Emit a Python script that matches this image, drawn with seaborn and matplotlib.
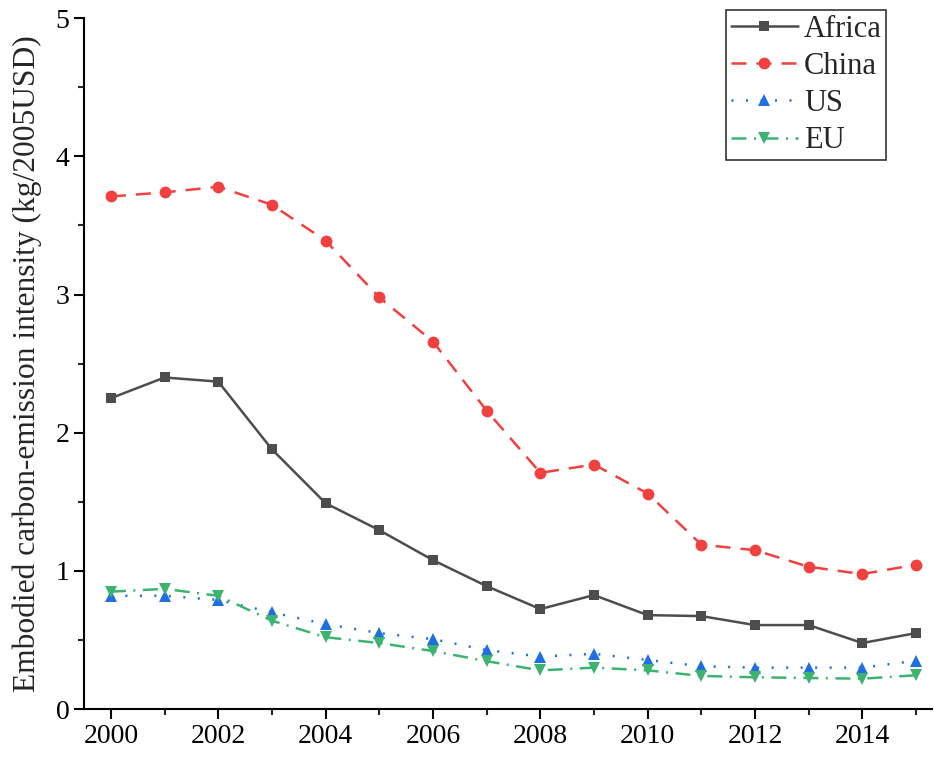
import matplotlib
matplotlib.use("Agg")
import matplotlib.pyplot as plt
import seaborn as sns
import pandas as pd
from matplotlib.ticker import MultipleLocator

years = list(range(2000, 2016))
africa = [2.25, 2.40, 2.37, 1.88, 1.49, 1.295, 1.078, 0.89, 0.724, 0.825, 0.68, 0.673, 0.608, 0.608, 0.478, 0.55]
china = [3.71, 3.74, 3.78, 3.65, 3.39, 2.98, 2.66, 2.16, 1.71, 1.77, 1.56, 1.19, 1.15, 1.03, 0.977, 1.045]
us = [0.82, 0.82, 0.79, 0.70, 0.615, 0.55, 0.506, 0.427, 0.38, 0.40, 0.355, 0.31, 0.30, 0.30, 0.30, 0.35]
eu = [0.85, 0.87, 0.82, 0.64, 0.52, 0.478, 0.42, 0.347, 0.28, 0.30, 0.28, 0.24, 0.23, 0.225, 0.22, 0.245]

sns.set_style("ticks")
plt.rcParams['font.family'] = ['Liberation Serif', 'DejaVu Serif']

fig = plt.figure(figsize=(9.34, 7.6), dpi=100)
ax = fig.add_axes([0.090, 0.067, 0.908, 0.909])

series = [
    ("Africa", africa, "#4d4d4d", "s", (None, None), 7.5),
    ("China", china, "#f0403f", "o", (6, 4), 8.5),
    ("US", us, "#1f6fe0", "^", (0.8, 5), 8.5),
    ("EU", eu, "#3cb371", "v", (6, 3, 0.8, 3), 8.5),
]
for name, vals, col, mk, dash, ms in series:
    df = pd.DataFrame({"year": years, "v": vals})
    ls = "-" if dash == (None, None) else (0, dash)
    sns.lineplot(data=df, x="year", y="v", ax=ax, color=col, marker=mk,
                 markersize=ms, markeredgewidth=0, linewidth=1.8,
                 linestyle=ls, label=name)

ax.set_xlim(1999.5, 2015.3)
ax.set_ylim(0, 5)
ax.xaxis.set_major_locator(MultipleLocator(2))
ax.xaxis.set_minor_locator(MultipleLocator(1))
ax.yaxis.set_major_locator(MultipleLocator(1))
ax.yaxis.set_minor_locator(MultipleLocator(0.5))
ax.tick_params(which="major", direction="out", length=7, width=1.5, labelsize=20, colors="black")
ax.tick_params(which="minor", direction="out", length=4, width=1.5)
for s in ["top", "right"]:
    ax.spines[s].set_visible(False)
for s in ["left", "bottom"]:
    ax.spines[s].set_linewidth(1.5)
    ax.spines[s].set_color("black")
ax.set_xlabel("")
ax.set_ylabel("Embodied carbon-emission intensity (kg/2005USD)", fontsize=22.7, labelpad=10)

leg = ax.legend(loc="upper right", bbox_to_anchor=(0.946, 1.012), fontsize=22, frameon=True,
                fancybox=False, edgecolor="black", handlelength=2.2, borderpad=0.15,
                labelspacing=0.27, handletextpad=0.2, borderaxespad=0)
leg.get_frame().set_linewidth(1.2)

fig.savefig("out.png", dpi=100)
